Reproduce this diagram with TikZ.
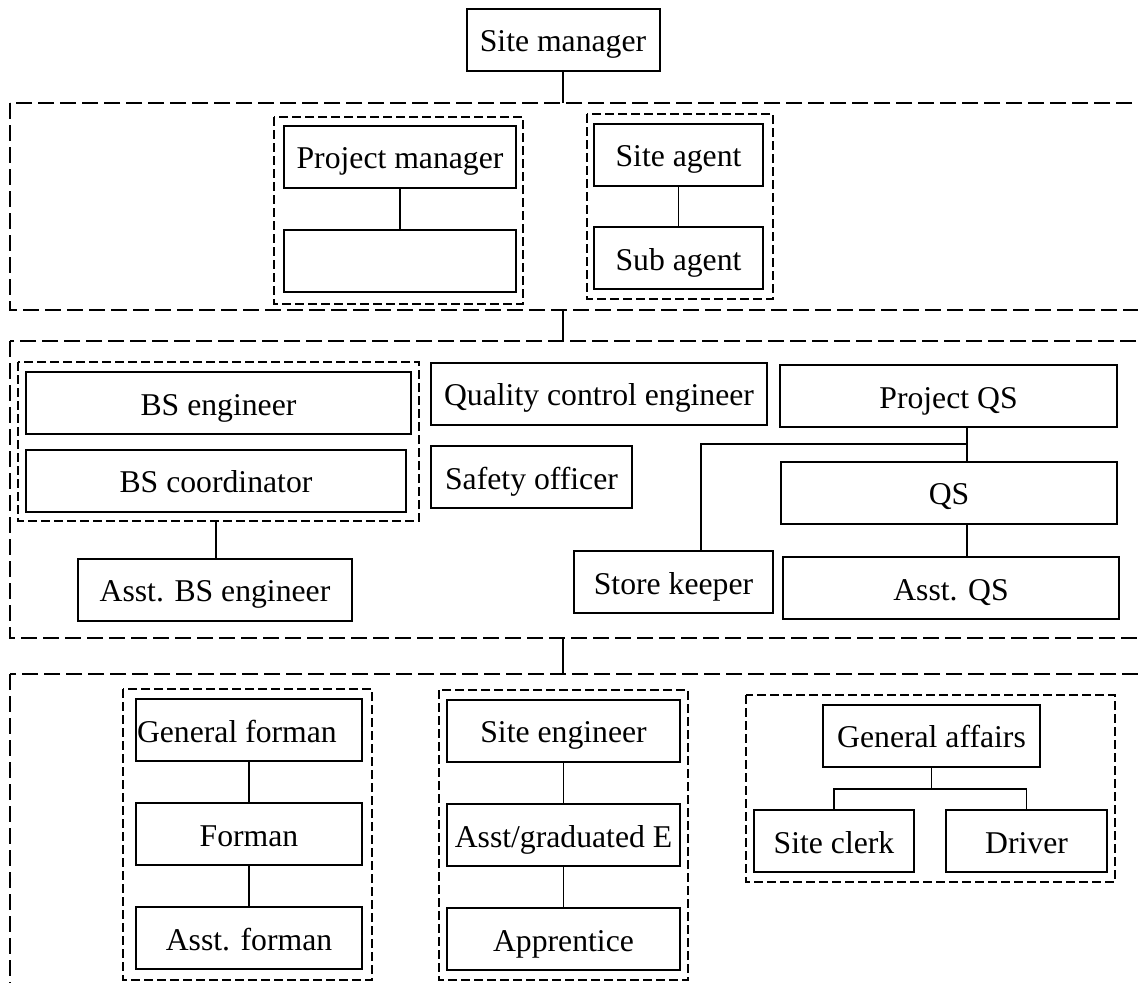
\documentclass[tikz,border=0pt]{standalone}
\usepackage{fontspec}
\setmainfont{Liberation Serif}

\begin{document}
\begin{tikzpicture}[x=0.5pt, y=-0.5pt,
		font=\fontsize{15.85}{19}\selectfont,
		role/.style={draw, rectangle, line width=1pt, inner sep=0pt, minimum height=31pt, text height=13pt, text depth=1pt},
		tier/.style={line width=1pt, dash pattern=on 8pt off 3pt},
		grp/.style={line width=1pt, dash pattern=on 4.5pt off 2pt},
		link/.style={line width=0.8pt}]
				\useasboundingbox (0,0) rectangle (1138,982);
				\clip (0,0) rectangle (1138,982);
				\draw[tier] (10,103) rectangle (1200,310);
				\draw[tier] (10,341) rectangle (1200,638);
				\draw[tier] (10,674) rectangle (1200,1060);
				\draw[grp] (274,117) rectangle (523,304);
				\draw[grp] (587,114) rectangle (773,299);
				\draw[grp] (18,362) rectangle (419,521);
				\draw[grp] (123,689) rectangle (372,980);
				\draw[grp] (439,690) rectangle (688,980);
				\draw[grp] (746,695) rectangle (1115,882);
				\node[role, minimum width=96.5pt] (sm)at(563, 39.5) {Site manager};
				\node[role, minimum width=116pt] (pm)at(400, 156.5) {Project manager};
				\node[role, minimum width=116pt] (pmx)at(400, 261) {};
				\node[role, minimum width=84.5pt] (sa)at(678.5, 154.5) {Site agent};
				\node[role, minimum width=84.5pt] (sub)at(678.5, 258) {Sub agent};
				\node[role, minimum width=192.5pt] (bse)at(218.5, 403) {BS engineer};
				\node[role, minimum width=190pt] (bsc)at(216, 480.5) {BS coordinator};
				\node[role, minimum width=137pt] (abs)at(215, 589.5) {Asst. BS engineer};
				\node[role, minimum width=168pt] (qce)at(599, 393.5) {Quality control engineer};
				\node[role, minimum width=100.5pt] (so)at(531.5, 477) {Safety officer};
				\node[role, minimum width=168.5pt] (pqs)at(948.5, 396) {Project QS};
				\node[role, minimum width=168pt] (qs)at(949, 492.5) {QS};
				\node[role, minimum width=168pt] (aqs)at(951, 588) {Asst. QS};
				\node[role, minimum width=99.5pt] (sk)at(673.5, 582) {Store keeper};
				\node[role] (gf)at(249, 730) {\makebox[113pt][l]{\hspace{0.5pt}General forman}};
				\node[role, minimum width=113pt] (fo)at(249, 834) {Forman};
				\node[role, minimum width=113pt] (af)at(249, 938) {Asst. forman};
				\node[role, minimum width=116.5pt] (se)at(563.5, 730.5) {Site engineer};
				\node[role, minimum width=116.5pt] (ag)at(563.5, 835) {Asst/graduated E};
				\node[role, minimum width=116.5pt] (ap)at(563.5, 939) {Apprentice};
				\node[role, minimum width=108.5pt] (ga)at(931.5, 735.5) {General affairs};
				\node[role, minimum width=80pt] (sc)at(834, 841) {Site clerk};
				\node[role, minimum width=80.5pt] (dr)at(1026.5, 841) {Driver};
				\coordinate (t1top)at(563, 103);
				\coordinate (t1bot)at(563, 310);
				\coordinate (t2top)at(563, 341);
				\coordinate (t2bot)at(563, 638);
				\coordinate (t3top)at(563, 674);
				\coordinate (bsgrp)at(216, 521);
				\coordinate (qsfork)at(967, 444);
				\coordinate (skin)at(701, 551);
				\coordinate (gafork)at(931.5, 789);
				\draw[link] (sm) -- (t1top);
				\draw[link] (t1bot) -- (t2top);
				\draw[link] (t2bot) -- (t3top);
				\draw[link] (pm) -- (pmx);
				\draw[link] (sa) -- (sub);
				\draw[link] (bsgrp) -- (bsgrp |- abs.north);
				\draw[link] (qsfork |- pqs.south) -- (qsfork |- qs.north);
				\draw[link] (qsfork |- qs.south) -- (qsfork |- aqs.north);
				\draw[link] (qsfork) -| (skin);
				\draw[link] (gf) -- (fo);
				\draw[link] (fo) -- (af);
				\draw[link] (se) -- (ag);
				\draw[link] (ag) -- (ap);
				\draw[link] (ga) -- (gafork);
				\draw[link] (sc.north) |- (gafork) -| (dr.north);
			\end{tikzpicture}
\end{document}
